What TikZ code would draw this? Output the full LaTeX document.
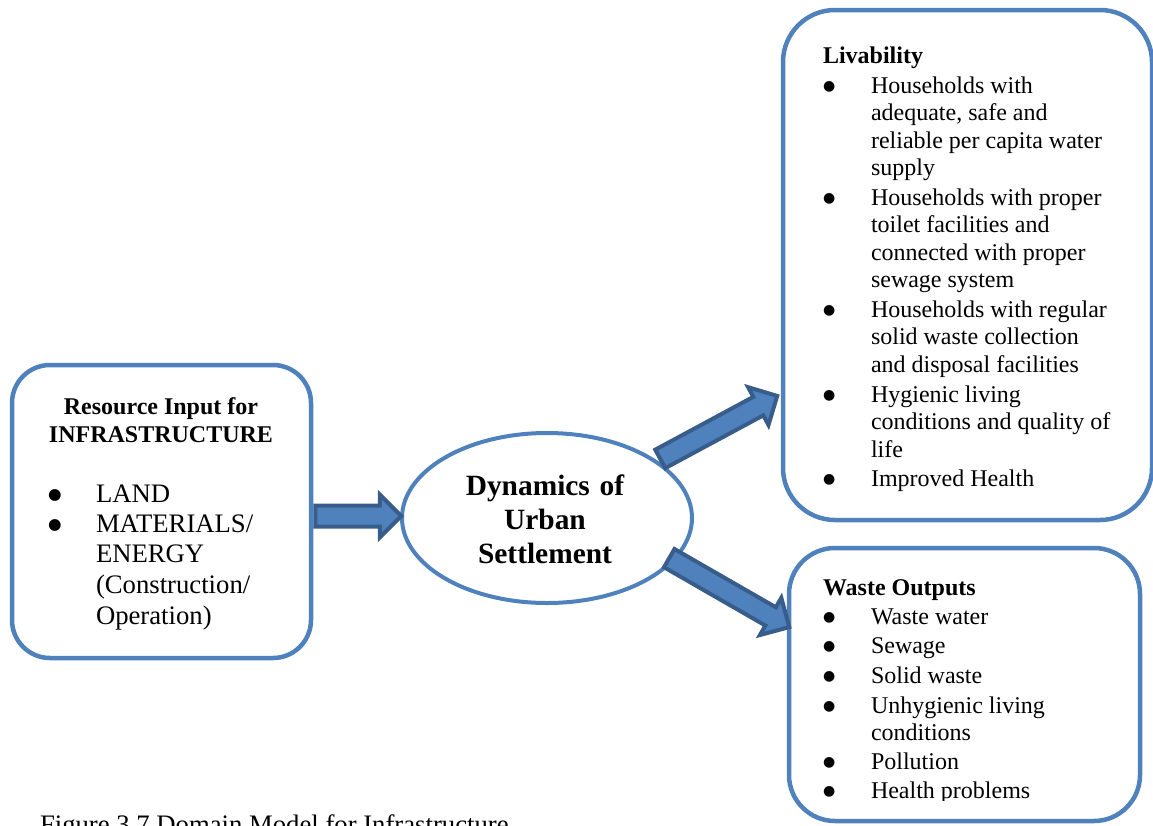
\documentclass[tikz,border=0pt]{standalone}
\usepackage{fontspec}
\setmainfont{Liberation Serif}
\newfontfamily\dotfont{DejaVu Sans}
\usetikzlibrary{shapes.geometric,shapes.arrows,calc}

\definecolor{panelblue}{RGB}{79,129,189}
\definecolor{arrowedge}{RGB}{56,93,138}

% type sizes
\newcommand\szA{\fontsize{24}{27.6}\selectfont}
\newcommand\szB{\fontsize{26.7}{30.7}\selectfont}
\newcommand\szC{\fontsize{29.4}{34}\selectfont}
% list entry: round bullet, then the lines of the entry stacked from the first baseline
\newcommand\bitem[3][14]{\makebox[#2][l]{\raisebox{2.7pt}{\dotfont\fontsize{#1}{#1}\selectfont ●}}\begin{tabular}[t]{@{}l@{}}#3\end{tabular}}

\begin{document}
\begin{tikzpicture}[x=1pt,y=-1pt,
  panel/.style={draw=panelblue, line width=4.5pt, rounded corners=#1,
                inner sep=0pt, outer sep=0pt},
  hub/.style={ellipse, draw=panelblue, line width=4pt, inner sep=0pt, outer sep=0pt},
  txt/.style={inner sep=0pt, outer sep=0pt, anchor=base west},
  headA/.style={txt, font=\szA\bfseries},
  listA/.style={txt, font=\szA},
  listB/.style={txt, font=\szB},
  blockarrow/.style={single arrow, draw=arrowedge, fill=panelblue, line width=4pt,
                inner sep=0pt, outer sep=0pt, text height=17pt, text depth=0pt,
                single arrow head extend=11pt, single arrow tip angle=90,
                minimum height=#1, sloped, midway}
]
\useasboundingbox (0,0) rectangle (1153,825);
\clip (0,0) rectangle (1153,825);

% frames
\node[panel=38pt, minimum width=299pt, minimum height=293pt] (inbox) at (161.5,511.5) {};
\node[panel=52pt, minimum width=369pt, minimum height=510pt] (livbox) at (967.5,265) {};
\node[panel=46pt, minimum width=351pt, minimum height=273pt] (wastebox) at (964.5,684.5) {};
\node[hub, minimum width=290pt, minimum height=170pt] (hub) at (547,518) {};

% block arrows
\coordinate (a1s) at (310,516);
\coordinate (a1e) at (396,516);
\coordinate (a2s) at (655.6,461.4);
\coordinate (a2e) at (772.6,398.4);
\coordinate (a3s) at (664.7,555.5);
\coordinate (a3e) at (784.7,624.5);
\path let \p1=(a1s), \p2=(a1e), \n1={veclen(\x2-\x1,\y2-\y1)} in
  (a1s) -- (a1e) node[blockarrow=\n1] (arrin) {};
\path let \p1=(a2s), \p2=(a2e), \n1={veclen(\x2-\x1,\y2-\y1)} in
  (a2s) -- (a2e) node[blockarrow=\n1] (arrliv) {};
\path let \p1=(a3s), \p2=(a3e), \n1={veclen(\x2-\x1,\y2-\y1)} in
  (a3s) -- (a3e) node[blockarrow=\n1] (arrwaste) {};

% resource input
\node[headA, anchor=base] (intitleA) at (161,414) {Resource Input for};
\node[headA, anchor=base] (intitleB) at (161,442) {INFRASTRUCTURE};
\node[listB] (inland) at (48,502) {\bitem[15.5]{48pt}{LAND}};
\node[listB] (inmat) at (48,532) {\bitem[15.5]{48pt}{MATERIALS/\\ENERGY\\(Construction/\\Operation)}};

% centre
\node[inner sep=0pt, anchor=base, text width=240pt, align=center, font=\szC\bfseries]
  (hubtext) at (545,495) {Dynamics of\\Urban\\Settlement};

% livability
\node[headA] (livtitle) at (823,63) {Livability};
\node[listA] (livA) at (823,93) {\bitem{48pt}{Households with\\adequate, safe and\\reliable per capita water\\supply}};
\node[listA] (livB) at (823,205) {\bitem{48pt}{Households with proper\\toilet facilities and\\connected with proper\\sewage system}};
\node[listA] (livC) at (823,317) {\bitem{48pt}{Households with regular\\solid waste collection\\and disposal facilities}};
\node[listA] (livD) at (823,402) {\bitem{48pt}{Hygienic living\\conditions and quality of\\life}};
\node[listA] (livE) at (823,486) {\bitem{48pt}{Improved Health}};

% waste outputs
\node[headA] (wastetitle) at (823,595) {Waste Outputs};
\node[listA] (wasteA) at (823,624) {\bitem{48pt}{Waste water}};
\node[listA] (wasteB) at (823,653) {\bitem{48pt}{Sewage}};
\node[listA] (wasteC) at (823,683) {\bitem{48pt}{Solid waste}};
\node[listA] (wasteD) at (823,713) {\bitem{48pt}{Unhygienic living\\conditions}};
\node[listA] (wasteE) at (823,769) {\bitem{48pt}{Pollution}};
\begin{scope}
  \clip (780,760) rectangle (1150,800);
  \node[listA] (wasteF) at (823,798) {\bitem{48pt}{Health problems}};
\end{scope}

% caption
\node[txt, font=\szB] (caption) at (40,833) {Figure 3.7 Domain Model for Infrastructure};
\end{tikzpicture}
\end{document}
